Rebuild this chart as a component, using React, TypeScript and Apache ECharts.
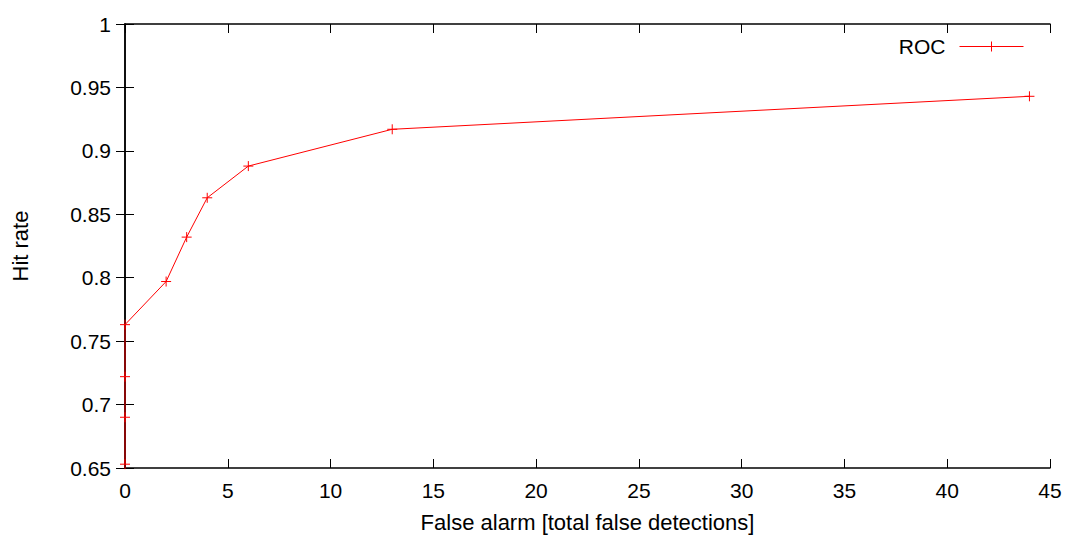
import React, { useEffect, useRef } from "react";
import * as echarts from "echarts";

const falseAlarms = [0, 0, 0, 0, 2, 3, 4, 6, 13, 44];
const hitRates = [0.653, 0.69, 0.722, 0.763, 0.797, 0.832, 0.863, 0.888, 0.917, 0.943];
const seriesName = "ROC";
const xTitle = "False alarm [total false detections]";
const yTitle = "Hit rate";

const PLUS = "path://M0,5L10,5M5,0L5,10";
const LEGEND_ICON = "path://M0,5L64,5M32,0L32,10";
const FONT = "Liberation Sans, Arial, Helvetica, sans-serif";

export default function App() {
  const ref = useRef<HTMLDivElement>(null);
  useEffect(() => {
    if (!ref.current) return;
    const chart = echarts.init(ref.current, null, { renderer: "svg" });
    const axisLine = { show: true, lineStyle: { color: "#000", width: 1.5 } };
    const tick = { show: true, inside: true, length: 9, lineStyle: { color: "#000", width: 1 } };
    chart.setOption({
      animation: false,
      backgroundColor: "#fff",
      textStyle: { fontFamily: FONT },
      grid: { left: 125, right: 16, top: 24, bottom: 68, containLabel: false },
      legend: {
        show: true,
        right: 37,
        top: 31,
        align: "right",
        itemWidth: 64,
        itemHeight: 10,
        itemGap: 0,
        itemStyle: { color: "#ff0000", borderColor: "#ff0000", borderWidth: 1 },
        textStyle: { fontSize: 21, color: "#000", fontFamily: FONT, padding: [0, 9, 0, 0] },
        data: [{ name: seriesName, icon: LEGEND_ICON }],
      },
      xAxis: [
        {
          type: "value",
          min: 0,
          max: 45,
          interval: 5,
          name: xTitle,
          nameLocation: "middle",
          nameGap: 43,
          nameTextStyle: { fontSize: 22, color: "#000", fontFamily: FONT },
          axisLine,
          axisTick: tick,
          axisLabel: { fontSize: 21, color: "#000", margin: 12, fontFamily: FONT },
          splitLine: { show: false },
        },
        {
          type: "value",
          position: "top",
          min: 0,
          max: 45,
          interval: 5,
          axisLine,
          axisTick: tick,
          axisLabel: { show: false },
          splitLine: { show: false },
        },
      ],
      yAxis: [
        {
          type: "value",
          min: 0.65,
          max: 1,
          interval: 0.05,
          name: yTitle,
          nameLocation: "middle",
          nameGap: 94,
          nameRotate: 90,
          nameTextStyle: { fontSize: 22, color: "#000", fontFamily: FONT },
          axisLine,
          axisTick: tick,
          axisLabel: {
            fontSize: 21,
            color: "#000",
            margin: 14,
            fontFamily: FONT,
            formatter: (v: number) => String(parseFloat(v.toFixed(2))),
          },
          splitLine: { show: false },
        },
        {
          type: "value",
          position: "right",
          min: 0.65,
          max: 1,
          interval: 0.05,
          axisLine,
          axisTick: tick,
          axisLabel: { show: false },
          splitLine: { show: false },
        },
      ],
      series: [
        {
          name: seriesName,
          type: "line",
          data: falseAlarms.map((x, i) => [x, hitRates[i]]),
          symbol: PLUS,
          symbolSize: 10,
          showSymbol: true,
          lineStyle: { color: "#ff0000", width: 1 },
          itemStyle: { color: "#ff0000", borderColor: "#ff0000", borderWidth: 1 },
          color: "#ff0000",
          clip: false,
        },
      ],
    });
    return () => chart.dispose();
  }, []);
  return <div ref={ref} style={{ width: 1066, height: 538, position: "absolute", left: 0, top: 0 }} />;
}
